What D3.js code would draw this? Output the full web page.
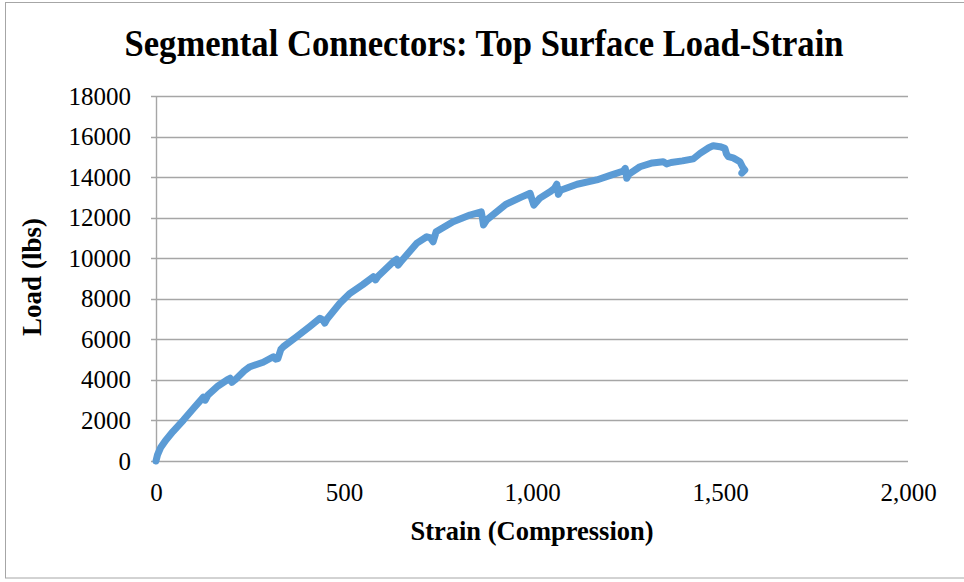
<!DOCTYPE html>
<html>
<head>
<meta charset="utf-8">
<script src="https://cdn.jsdelivr.net/npm/d3@7"></script>
<style>
  html, body { margin: 0; padding: 0; background: #fff; }
  svg { display: block; }
  text { font-family: "Liberation Serif", "Times New Roman", serif; fill: #000; }
</style>
</head>
<body>
<svg id="chart" width="964" height="582"></svg>
<script>
// Measured load-strain record for the segmental connector specimen (top surface gauge)
const strain = [0, 4, 12, 25, 45, 73, 100, 126, 131, 138, 165, 192, 197, 202, 210, 235, 250, 285, 312, 318, 324, 332, 339, 374, 410, 436, 444, 449, 455, 489, 516, 550, 578, 584, 590, 631, 640, 644, 650, 693, 720, 730, 737, 745, 790, 835, 865, 868, 871, 880, 930, 970, 995, 1000, 1005, 1020, 1050, 1060, 1066, 1070, 1076, 1120, 1172, 1210, 1243, 1248, 1252, 1258, 1287, 1320, 1349, 1358, 1370, 1400, 1429, 1447, 1470, 1482, 1500, 1513, 1517, 1522, 1535, 1553, 1560, 1566, 1558, 1562];
const load   = [0, 300, 650, 1000, 1450, 2020, 2600, 3150, 3000, 3250, 3700, 4030, 4080, 3880, 4000, 4450, 4650, 4870, 5140, 5020, 5050, 5500, 5640, 6130, 6650, 7040, 6950, 6800, 7000, 7780, 8270, 8700, 9090, 8930, 9100, 9830, 9950, 9660, 9800, 10730, 11060, 11000, 10810, 11300, 11800, 12130, 12290, 12000, 11640, 11900, 12650, 13000, 13200, 12900, 12620, 12950, 13300, 13450, 13650, 13150, 13350, 13650, 13860, 14100, 14300, 14430, 13940, 14150, 14510, 14700, 14760, 14650, 14720, 14800, 14900, 15170, 15450, 15550, 15500, 15420, 15150, 15010, 14950, 14760, 14500, 14350, 14200, 14300];

const xTicks = [0, 500, 1000, 1500, 2000];
const yTicks = [0, 2000, 4000, 6000, 8000, 10000, 12000, 14000, 16000, 18000];

const titleText = "Segmental Connectors: Top Surface Load-Strain";
const xTitle = "Strain (Compression)";
const yTitle = "Load (lbs)";

const svg = d3.select("#chart");

// chart frame
svg.append("rect")
  .attr("x", 5.5).attr("y", 2.5)
  .attr("width", 962).attr("height", 575.5)
  .attr("fill", "#fff").attr("stroke", "#a6a6a6").attr("stroke-width", 1);

const plot = { left: 156, right: 908, top: 96, bottom: 461 };

const x = d3.scaleLinear().domain([0, 2000]).range([plot.left, plot.right]);
const y = d3.scaleLinear().domain([0, 18000]).range([plot.bottom, plot.top]);

// horizontal gridlines
svg.append("g")
  .selectAll("line")
  .data(yTicks)
  .join("line")
  .attr("x1", plot.left - 5).attr("x2", plot.right)
  .attr("y1", d => Math.round(y(d)) + 0.5).attr("y2", d => Math.round(y(d)) + 0.5)
  .attr("stroke", "#a6a6a6").attr("stroke-width", 1.4);

// vertical axis line
svg.append("line")
  .attr("x1", plot.left + 0.5).attr("x2", plot.left + 0.5)
  .attr("y1", plot.top).attr("y2", plot.bottom)
  .attr("stroke", "#a6a6a6").attr("stroke-width", 1.4);

// y axis labels
const yAxis = d3.axisLeft(y).tickValues(yTicks).tickSize(0).tickPadding(25).tickFormat(d3.format("d"));
const gy = svg.append("g").attr("transform", `translate(${plot.left},0)`).call(yAxis);
gy.select(".domain").remove();
gy.selectAll("text").attr("font-size", 25).attr("font-family", "Liberation Serif, serif").attr("fill", "#000");

// x axis labels
const xAxis = d3.axisBottom(x).tickValues(xTicks).tickSize(0).tickPadding(22).tickFormat(d3.format(","));
const gx = svg.append("g").attr("transform", `translate(0,${plot.bottom})`).call(xAxis);
gx.select(".domain").remove();
gx.selectAll("text").attr("font-size", 25).attr("font-family", "Liberation Serif, serif").attr("fill", "#000");

// load-strain curve
const pts = strain.map((s, i) => [s, load[i]]);
const line = d3.line().x(d => x(d[0])).y(d => y(d[1]));
svg.append("path")
  .datum(pts)
  .attr("d", line)
  .attr("fill", "none")
  .attr("stroke", "#5b9bd5")
  .attr("stroke-width", 7)
  .attr("stroke-linejoin", "round")
  .attr("stroke-linecap", "round");

// titles
svg.append("text")
  .attr("x", 484).attr("y", 56)
  .attr("text-anchor", "middle")
  .attr("font-size", 38).attr("font-weight", "bold")
  .attr("textLength", 719).attr("lengthAdjust", "spacingAndGlyphs")
  .text(titleText);

svg.append("text")
  .attr("x", 532).attr("y", 540)
  .attr("text-anchor", "middle")
  .attr("font-size", 26.5).attr("font-weight", "bold")
  .text(xTitle);

svg.append("text")
  .attr("transform", "translate(41,277) rotate(-90)")
  .attr("text-anchor", "middle")
  .attr("font-size", 27).attr("font-weight", "bold")
  .text(yTitle);
</script>
</body>
</html>
